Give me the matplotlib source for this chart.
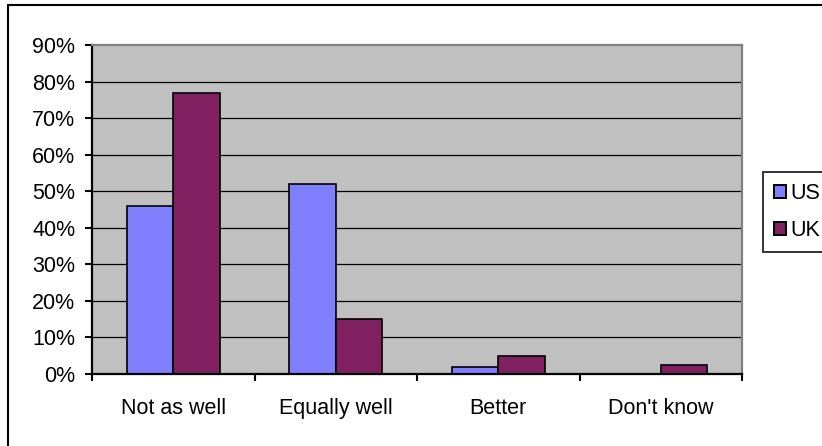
import matplotlib
matplotlib.use("Agg")
import matplotlib.pyplot as plt
from matplotlib.patches import Rectangle, Patch
from matplotlib.ticker import FixedLocator, FuncFormatter
import numpy as np

plt.rcParams['font.family'] = ['Liberation Sans', 'DejaVu Sans']

categories = ["Not as well", "Equally well", "Better", "Don't know"]
series_names = ["US", "UK"]
us_values = [46, 52, 2, 0]
uk_values = [77, 15, 5, 2.5]
y_ticks = [0, 10, 20, 30, 40, 50, 60, 70, 80, 90]

us_color = '#8080FF'
uk_color = '#802060'
plot_bg = '#C0C0C0'

W, H = 822, 446
DPI = 100
fig = plt.figure(figsize=(W / DPI, H / DPI), dpi=DPI)
fig.patch.set_facecolor('white')

# plot area in pixel coordinates
left, right, top, bottom = 92, 742, 45, 374
ax = fig.add_axes([left / W, 1 - bottom / H, (right - left) / W, (bottom - top) / H])
ax.set_facecolor(plot_bg)

n = len(categories)
x = np.arange(n)
bw = 1 / 3.5  # Excel gap width 150%

ax.bar(x - bw / 2, us_values, width=bw, color=us_color, edgecolor='black', linewidth=1.2, zorder=3)
ax.bar(x + bw / 2, uk_values, width=bw, color=uk_color, edgecolor='black', linewidth=1.2, zorder=3)

ax.set_xlim(-0.5, n - 0.5)
ax.set_ylim(0, 90)

# gridlines
for t in y_ticks[1:-1]:
    ax.axhline(t, color='black', linewidth=0.9, zorder=1)

# y axis
ax.yaxis.set_major_locator(FixedLocator(y_ticks))
ax.yaxis.set_major_formatter(FuncFormatter(lambda v, p: f"{int(v)}%"))
ax.tick_params(axis='y', direction='out', length=5, width=1.5, pad=7, labelsize=15.5, colors='black')

# x axis: ticks at category boundaries, labels at centers
ax.xaxis.set_major_locator(FixedLocator(np.arange(n + 1) - 0.5))
ax.xaxis.set_major_formatter(FuncFormatter(lambda v, p: ""))
ax.xaxis.set_minor_locator(FixedLocator(x))
ax.set_xticklabels(categories, minor=True)
ax.tick_params(axis='x', which='major', direction='out', length=5, width=1.5)
ax.tick_params(axis='x', which='minor', length=0, pad=17, labelsize=15.5)

for s in ['left', 'bottom']:
    ax.spines[s].set_color('black')
    ax.spines[s].set_linewidth(1.6)
for s in ['top', 'right']:
    ax.spines[s].set_color('#808080')
    ax.spines[s].set_linewidth(1.6)
for s in ax.spines.values():
    s.set_zorder(4)

# legend
handles = [Patch(facecolor=us_color, edgecolor='black', linewidth=1.4),
           Patch(facecolor=uk_color, edgecolor='black', linewidth=1.4)]
leg = fig.legend(handles, series_names, loc='upper left',
                 bbox_to_anchor=(763 / W, 1 - 172 / H), borderaxespad=0,
                 fontsize=15.5, handlelength=0.55, handleheight=0.55,
                 handletextpad=0.2, labelspacing=0.75, borderpad=0.5,
                 frameon=True, fancybox=False, shadow=False)
leg.get_frame().set_edgecolor('black')
leg.get_frame().set_linewidth(1.4)
leg.get_frame().set_facecolor('white')

# outer chart frame
frame = Rectangle((8 / W, -0.2), 1.2, 1 - 5 / H + 0.2, transform=fig.transFigure,
                  fill=False, edgecolor='black', linewidth=1.5, clip_on=False)
fig.patches.append(frame)

fig.savefig('out.png', dpi=DPI)
